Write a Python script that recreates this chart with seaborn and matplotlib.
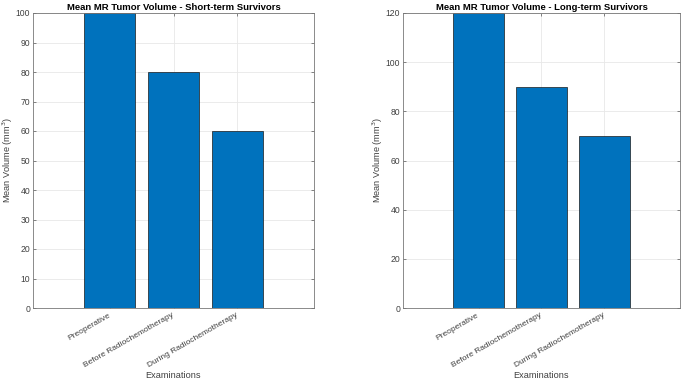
import matplotlib
matplotlib.use("Agg")
import matplotlib.pyplot as plt
import seaborn as sns
import pandas as pd

categories = ["Preoperative", "Before Radiochemotherapy", "During Radiochemotherapy"]
short_term = [100, 80, 60]
long_term = [120, 90, 70]
short_yticks = [0, 10, 20, 30, 40, 50, 60, 70, 80, 90, 100]
long_yticks = [0, 20, 40, 60, 80, 100, 120]

sns.set_theme(style="whitegrid")
plt.rcParams['font.family'] = ['Liberation Sans', 'DejaVu Sans']

fig = plt.figure(figsize=(6.85, 3.82), dpi=100)
ax1 = fig.add_axes([33/685, 1-308/382, (314-33)/685, (308-13)/382])
ax2 = fig.add_axes([403/685, 1-308/382, (680-403)/685, (308-13)/382])

txt = "#404040"
panels = [
    (ax1, short_term, short_yticks, "Mean MR Tumor Volume - Short-term Survivors"),
    (ax2, long_term, long_yticks, "Mean MR Tumor Volume - Long-term Survivors"),
]
for ax, vals, yt, title in panels:
    df = pd.DataFrame({"Examination": categories, "Volume": vals})
    sns.barplot(data=df, x="Examination", y="Volume", ax=ax, color="#0072BD",
                saturation=1, width=0.8, edgecolor="#1a1a1a", linewidth=0.5)
    ax.set_xlim(-1.2, 3.2)
    ax.set_ylim(yt[0], yt[-1])
    ax.set_yticks(yt)
    ax.set_xticks(range(len(categories)))
    ax.set_xticklabels(categories, rotation=30, ha="right", va="center",
                       rotation_mode="anchor", fontsize=6.0, color=txt)
    ax.tick_params(axis="y", labelsize=6.2, labelcolor=txt, direction="in",
                   length=2.5, width=0.5, color="#555555", left=True, right=True, pad=2)
    ax.tick_params(axis="x", direction="in", length=2.5, width=0.5, color="#555555",
                   bottom=True, top=True, pad=5)
    ax.set_title(title, fontsize=6.8, fontweight="bold", pad=2.5, color="black")
    ax.set_xlabel("Examinations", fontsize=6.6, color=txt, va="center")
    ax.set_ylabel("Mean Volume (mm$^{3}$)", fontsize=6.6, color=txt, va="center")
    ax.yaxis.set_label_coords(-25 / ax.bbox.width, 0.5)
    ax.xaxis.set_label_coords(0.5, -(376 - 308) / ax.bbox.height)
    ax.grid(True, color="#e8e8e8", linewidth=0.6)
    ax.set_axisbelow(True)
    ax.set_facecolor("white")
    for s in ax.spines.values():
        s.set_visible(True)
        s.set_color("#777777")
        s.set_linewidth(0.6)

fig.savefig("out.png", dpi=100, facecolor="white")
